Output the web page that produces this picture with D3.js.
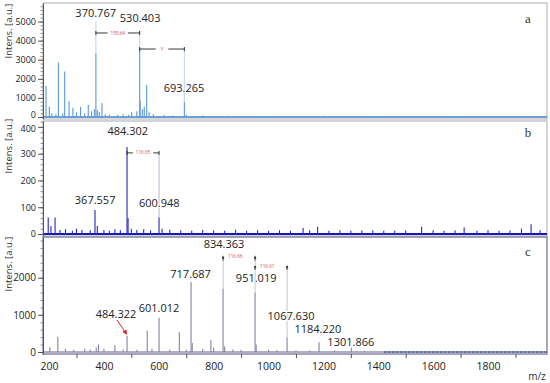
<!DOCTYPE html>
<html>
<head>
<meta charset="utf-8">
<script src="https://cdn.jsdelivr.net/npm/d3@7"></script>
<style>
  body { margin: 0; background: #fff; }
  svg { display: block; }
</style>
</head>
<body>
<div id="chart-area"></div>
<script>
// ---- data: peaks as [m/z, intensity] ----
var peaksA = [
  [189, 1640], [201, 550], [210, 200], [225, 150], [234, 2850], [250, 180], [257, 2380],
  [273, 830], [287, 490], [300, 250], [315, 520], [330, 200], [343, 640], [355, 300],
  [365, 400], [370.767, 3320], [376, 350], [383, 260], [393, 725], [405, 150], [420, 120],
  [450, 100], [470, 150], [490, 120], [501, 260], [520, 300], [530.403, 3560], [532, 870],
  [540, 400], [547, 530], [556, 1680], [565, 250], [580, 150], [620, 100], [650, 80],
  [693.265, 780], [700, 120], [760, 80], [850, 60], [1000, 50], [1200, 60], [1400, 40],
  [1500, 50], [1700, 40], [1900, 50]
];
var peaksB = [
  [197, 62], [207, 30], [222, 62], [240, 15], [260, 18], [285, 12], [300, 20], [320, 15],
  [350, 14], [367.557, 90], [376, 30], [400, 15], [420, 12], [440, 18], [460, 14],
  [484.302, 325], [488, 60], [500, 20], [520, 15], [545, 18], [570, 14], [600.948, 62],
  [612, 20], [640, 16], [680, 14], [720, 12], [760, 15], [800, 13], [840, 12], [880, 16],
  [920, 12], [960, 14], [1000, 12], [1040, 14], [1080, 12], [1126, 22], [1150, 14],
  [1179, 27], [1220, 12], [1260, 14], [1300, 12], [1340, 13], [1380, 14], [1420, 12],
  [1460, 12], [1500, 13], [1558, 27], [1600, 14], [1640, 12], [1680, 13], [1713, 24],
  [1760, 12], [1800, 14], [1840, 12], [1880, 13], [1922, 20], [1957, 36], [1990, 14]
];
var peaksC = [
  [203, 130], [232, 410], [260, 80], [290, 60], [330, 90], [350, 70], [372, 120], [380, 210],
  [400, 80], [440, 190], [470, 70], [484.322, 440], [520, 60], [558, 570], [575, 90],
  [601.012, 920], [640, 70], [675, 530], [700, 60], [717.687, 1885], [722, 240], [760, 80],
  [790, 320], [800, 120], [834.363, 1700], [840, 150], [870, 70], [900, 60], [951.019, 1600],
  [955, 200], [1000, 60], [1030, 50], [1067.630, 400], [1100, 40], [1150, 40],
  [1184.220, 260], [1240, 40], [1301.866, 115], [1350, 30]
];

// labelled peaks: [text, label centre in m/z, label baseline in intensity units]
var labelsA = [['370.767', 370, 5235], ['530.403', 532, 4990], ['693.265', 692, 1325]];
var labelsB = [['484.302', 487, 369], ['367.557', 368, 112], ['600.948', 602, 101]];
var labelsC = [
  ['834.363', 838, 2791], ['717.687', 716, 2000], ['951.019', 955, 1892],
  ['1067.630', 1082, 861], ['1184.220', 1180, 503], ['1301.866', 1300, 170],
  ['601.012', 601, 1085], ['484.322', 444, 907]
];

// guide lines from peak top up to bracket/label: [m/z, from, to]
var guidesA = [[370.767, 3320, 5000], [530.403, 3560, 4500], [693.265, 780, 3560]];
var guidesB = [[600.948, 62, 303]];
var guidesC = [[834.363, 1700, 2600], [951.019, 1600, 2600], [1067.630, 400, 2340]];

// mass differences: [from m/z, to m/z, height, text]
var bracketsA = [[370.767, 530.403, 4400, '159.64'], [530.403, 693.265, 3560, 'Y']];
var bracketsB = [[484.302, 600.948, 303, '116.65']];
var bracketsC = [[834.363, 951.019, 2565, '116.66'], [951.019, 1067.630, 2315, '116.61']];

var xLabelTicks = [200, 400, 600, 800, 1000, 1200, 1400, 1600, 1800];
var xMarkTicks = [300, 500, 700, 900, 1100, 1300, 1500, 1700, 1900];

// ---- layout ----
var W = 550, H = 383;
var left = 43, right = 547;

var panels = [
  { name: 'a', top: 3, bottom: 119, domain: [-105, 5970], major: [0, 1000, 2000, 3000, 4000, 5000], minorStep: 200,
    peaks: peaksA, labels: labelsA, guides: guidesA, brackets: bracketsA, arrows: false,
    color: '#5a98d8', base: '#3f7fcc', guide: '#b9d3ef', tickFont: 9, titleY: 31, frame: '#b0b0b0' },
  { name: 'b', top: 121, bottom: 236, domain: [-7.5, 422], major: [0, 100, 200, 300, 400], minorStep: 20,
    peaks: peaksB, labels: labelsB, guides: guidesB, brackets: bracketsB, arrows: false,
    color: '#2424c8', base: '#1818b8', guide: '#b8b8dd', tickFont: 9, titleY: 146, frame: '#a8a8b8' },
  { name: 'c', top: 237, bottom: 354, domain: [-54, 3095], major: [0, 1000, 2000], minorStep: 200,
    peaks: peaksC, labels: labelsC, guides: guidesC, brackets: bracketsC, arrows: true,
    color: '#8484a4', base: '#9494ac', guide: '#c4c4d2', tickFont: 10, titleY: 264, frame: '#8888a8' }
];

var svg = d3.select('#chart-area')
  .append('svg')
  .attr('width', W)
  .attr('height', H)
  .style('font-family', '"Open Sans", "Noto Sans", sans-serif');

var x = d3.scaleLinear()
  .domain([178, 2015])
  .range([left, right]);

panels.forEach(function(p) {
  var y = d3.scaleLinear()
    .domain(p.domain)
    .range([p.bottom, p.top]);

  var g = svg.append('g').attr('class', 'panel-' + p.name);

  // frame
  g.append('rect')
    .attr('x', left)
    .attr('y', p.top)
    .attr('width', right - left)
    .attr('height', p.bottom - p.top)
    .attr('fill', 'none')
    .attr('stroke', p.frame)
    .attr('stroke-width', p.name === 'c' ? 1.5 : 1);

  // baseline noise band
  g.append('line')
    .attr('x1', x(178)).attr('x2', x(2015))
    .attr('y1', y(0)).attr('y2', y(0))
    .attr('stroke', p.base)
    .attr('stroke-width', p.name === 'b' ? 2 : 1.5);

  if (p.name === 'c') {
    g.append('line')
      .attr('x1', x(1420)).attr('x2', x(2015))
      .attr('y1', y(0)).attr('y2', y(0))
      .attr('stroke', '#2a3a8a')
      .attr('stroke-width', 1.2)
      .attr('stroke-dasharray', '3,1');
  }

  // guides
  g.selectAll('.guide')
    .data(p.guides)
    .enter()
    .append('line')
      .attr('class', 'guide')
      .attr('x1', function(d) { return x(d[0]); })
      .attr('x2', function(d) { return x(d[0]); })
      .attr('y1', function(d) { return y(d[1]); })
      .attr('y2', function(d) { return y(d[2]); })
      .attr('stroke', p.guide)
      .attr('stroke-width', 1);

  // peaks
  g.selectAll('.peak')
    .data(p.peaks)
    .enter()
    .append('line')
      .attr('class', 'peak')
      .attr('x1', function(d) { return x(d[0]); })
      .attr('x2', function(d) { return x(d[0]); })
      .attr('y1', y(0))
      .attr('y2', function(d) { return y(d[1]); })
      .attr('stroke', p.color)
      .attr('stroke-width', 1.1);

  // peak labels
  g.selectAll('.plabel')
    .data(p.labels)
    .enter()
    .append('text')
      .attr('class', 'plabel')
      .attr('x', function(d) { return x(d[1]); })
      .attr('y', function(d) { return y(d[2]); })
      .attr('text-anchor', 'middle')
      .attr('font-size', '11px')
      .attr('fill', '#222')
      .attr('stroke', '#fff')
      .attr('stroke-width', 2)
      .attr('paint-order', 'stroke')
      .text(function(d) { return d[0]; });

  // brackets
  p.brackets.forEach(function(b) {
    var x1 = x(b[0]), x2 = x(b[1]), yy = y(b[2]);
    var mid = (x1 + x2) / 2;
    var t = g.append('text')
      .attr('x', mid)
      .attr('y', yy + 1.6)
      .attr('text-anchor', 'middle')
      .attr('font-size', '4.6px')
      .attr('fill', '#e03a3a')
      .text(b[3]);
    if (p.arrows) {
      t.attr('x', x1 + 5).attr('text-anchor', 'start');
      [x1, x2].forEach(function(xx) {
        g.append('line')
          .attr('x1', xx).attr('x2', xx)
          .attr('y1', yy).attr('y2', yy + 4)
          .attr('stroke', '#222').attr('stroke-width', 0.8);
        g.append('path')
          .attr('d', 'M' + (xx - 1.4) + ',' + (yy + 1.8) + 'L' + xx + ',' + (yy - 0.6) + 'L' + (xx + 1.4) + ',' + (yy + 1.8) + 'Z')
          .attr('fill', '#222');
      });
      return;
    }
    var half = t.node().getComputedTextLength() / 2 + (b[3] === 'Y' ? 5 : 3);
    [[x1, mid - half], [mid + half, x2]].forEach(function(s) {
      g.append('line')
        .attr('x1', s[0]).attr('x2', s[1])
        .attr('y1', yy).attr('y2', yy)
        .attr('stroke', '#222').attr('stroke-width', 0.9);
    });
    [x1, x2].forEach(function(xx) {
      g.append('line')
        .attr('x1', xx).attr('x2', xx)
        .attr('y1', yy - 2).attr('y2', yy + 2)
        .attr('stroke', '#222').attr('stroke-width', 0.9);
    });
  });

  // panel letter
  g.append('text')
    .attr('x', 528)
    .attr('y', p.top + (p.name === 'a' ? 20 : p.name === 'b' ? 16 : 19))
    .attr('text-anchor', 'middle')
    .attr('font-family', '"Liberation Serif", serif')
    .attr('font-size', '13px')
    .attr('fill', '#333')
    .text(p.name);

  // Y axis (minor then major)
  var minorVals = d3.range(0, p.domain[1], p.minorStep);
  g.append('g')
    .attr('transform', 'translate(' + left + ',0)')
    .call(d3.axisLeft(y).tickValues(minorVals).tickSize(2.5).tickFormat(''))
    .call(function(ax) {
      ax.select('.domain').remove();
      ax.selectAll('line').attr('stroke', '#666').attr('stroke-width', 0.7);
    });

  var lastMajor = p.major[p.major.length - 1];
  g.append('g')
    .attr('transform', 'translate(' + left + ',0)')
    .call(d3.axisLeft(y).tickValues(p.major).tickSize(5).tickPadding(2).tickSizeOuter(0).tickFormat(d3.format('d')))
    .call(function(ax) {
      ax.select('.domain').attr('stroke', '#555');
      ax.selectAll('line').attr('stroke', '#555');
      ax.selectAll('text')
        .attr('font-size', p.tickFont + 'px')
        .attr('font-family', '"Open Sans", sans-serif')
        .attr('fill', '#222');
      // keep the panel-edge labels of a and b from touching
      ax.selectAll('.tick text')
        .filter(function(d) { return (p.name === 'a' && d === 0) || (p.name === 'b' && d === lastMajor); })
        .attr('dy', p.name === 'a' ? '0.1em' : '0.5em');
    });

  // Y axis title
  svg.append('text')
    .attr('transform', 'translate(12,' + p.titleY + ') rotate(-90)')
    .attr('text-anchor', 'middle')
    .attr('font-size', '9.5px')
    .attr('fill', '#333')
    .text('Intens. [a.u.]');

  // X axis only under the last panel
  if (p.name === 'c') {
    svg.append('g')
      .attr('transform', 'translate(0,' + p.bottom + ')')
      .call(d3.axisBottom(x).tickValues(xMarkTicks).tickSize(4).tickFormat('').tickSizeOuter(0))
      .call(function(ax) {
        ax.select('.domain').remove();
        ax.selectAll('line').attr('stroke', '#555');
      });
    svg.append('g')
      .attr('transform', 'translate(0,' + p.bottom + ')')
      .call(d3.axisBottom(x).tickValues(xLabelTicks).tickSize(0).tickPadding(9).tickFormat(d3.format('d')))
      .call(function(ax) {
        ax.select('.domain').remove();
        ax.selectAll('text')
          .attr('font-size', '10.5px')
          .attr('font-family', '"Open Sans", sans-serif')
          .attr('fill', '#222');
      });
  }
});

// x axis title
svg.append('text')
  .attr('x', 537)
  .attr('y', 380)
  .attr('text-anchor', 'middle')
  .attr('font-size', '10px')
  .attr('fill', '#333')
  .text('m/z');

// red arrow pointing at the 484.322 peak in panel c
svg.append('defs').append('marker')
  .attr('id', 'arrow-red')
  .attr('viewBox', '0 0 10 10')
  .attr('refX', 8).attr('refY', 5)
  .attr('markerWidth', 5).attr('markerHeight', 5)
  .attr('orient', 'auto')
  .append('path')
    .attr('d', 'M0,0L10,5L0,10Z')
    .attr('fill', '#e02020');

svg.append('line')
  .attr('x1', 117).attr('y1', 320)
  .attr('x2', 126.5).attr('y2', 334)
  .attr('stroke', '#e02020')
  .attr('stroke-width', 1)
  .attr('marker-end', 'url(#arrow-red)');
</script>
</body>
</html>
